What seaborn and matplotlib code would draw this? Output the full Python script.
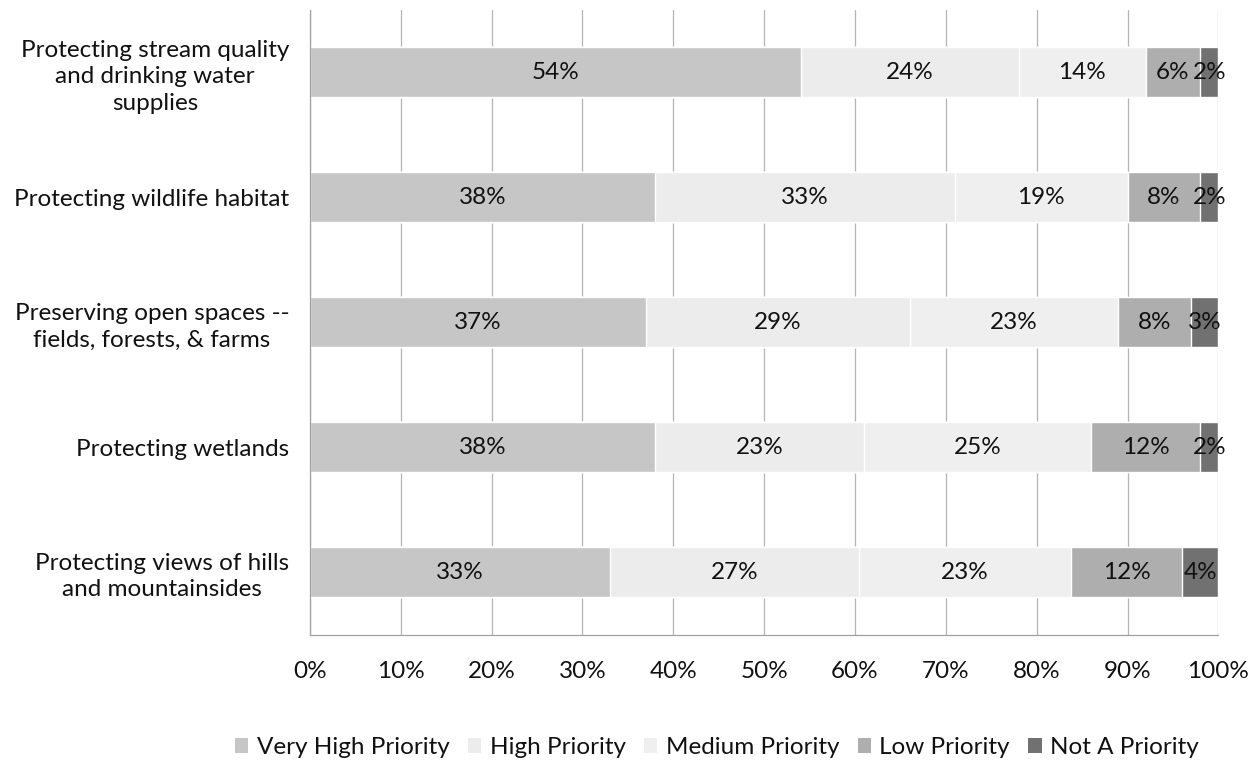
import numpy as np
import pandas as pd
import matplotlib
matplotlib.use("Agg")
import matplotlib.pyplot as plt
from matplotlib.patches import Patch
from matplotlib.ticker import FixedLocator
import seaborn as sns

categories = [
    "Protecting stream quality\nand drinking water\nsupplies",
    "Protecting wildlife habitat",
    "Preserving open spaces --\nfields, forests, & farms",
    "Protecting wetlands",
    "Protecting views of hills\nand mountainsides",
]
series = ["Very High Priority", "High Priority", "Medium Priority",
          "Low Priority", "Not A Priority"]
very_high = [54, 38, 37, 38, 33]
high = [24, 33, 29, 23, 27.4]
medium = [14, 19, 23, 25, 23.4]
low = [6, 8, 8, 12, 12.2]
not_priority = [2, 2, 3, 2, 4]
x_ticks = [0, 10, 20, 30, 40, 50, 60, 70, 80, 90, 100]

colors = ["#c6c6c6", "#ececec", "#efefef", "#aeaeae", "#717171"]
text_color = "#111111"
fs = 17.5

sns.set_style("white")
plt.rcParams["font.family"] = ["Lato", "DejaVu Sans"]

values = np.array([very_high, high, medium, low, not_priority], dtype=float)
cum = np.cumsum(values, axis=0)

fig = plt.figure(figsize=(12.6, 7.63), dpi=100)
ax = fig.add_axes([0.246, 0.168, 0.721, 0.819])

# Stacked bars: draw cumulative totals from the outermost segment inward
for i in range(len(series) - 1, -1, -1):
    df = pd.DataFrame({"category": categories, "value": cum[i]})
    sns.barplot(data=df, x="value", y="category", orient="h", color=colors[i],
                saturation=1, width=0.4, ax=ax, zorder=2)

# Segment value labels
for i in range(len(series)):
    for j in range(len(categories)):
        v = values[i, j]
        ax.text(cum[i, j] - v / 2, j, f"{v:.0f}%", ha="center", va="center",
                fontsize=fs, color=text_color, zorder=3)

ax.set_xlim(0, 100)
ax.set_ylim(len(categories) - 0.5, -0.5)
ax.set_xticks(x_ticks)
ax.set_xticklabels([f"{t}%" for t in x_ticks])
ax.set_xlabel("")
ax.set_ylabel("")

ax.grid(axis="x", color="#b4b4b4", linewidth=0.9, zorder=0)
ax.set_axisbelow(True)

for side in ["top", "right"]:
    ax.spines[side].set_visible(False)
for side in ["left", "bottom"]:
    ax.spines[side].set_color("#a0a0a0")
    ax.spines[side].set_linewidth(0.9)

ax.tick_params(axis="x", length=5, width=0.9, color="#a0a0a0", pad=14,
               labelsize=fs, labelcolor=text_color)
ax.tick_params(axis="y", which="major", length=0, pad=15,
               labelsize=fs, labelcolor=text_color)
ax.yaxis.set_minor_locator(FixedLocator(np.arange(-0.5, len(categories), 1.0)))
ax.tick_params(axis="y", which="minor", length=6, width=0.9, color="#a0a0a0")
for lbl in ax.get_yticklabels():
    lbl.set_multialignment("center")
    lbl.set_linespacing(1.3)

handles = [Patch(facecolor=c, edgecolor="none", label=s) for c, s in zip(colors, series)]
fig.legend(handles=handles, loc="center", bbox_to_anchor=(0.569, 0.02), ncol=5,
           frameon=False, fontsize=fs, handlelength=0.55, handleheight=0.55,
           handletextpad=0.35, columnspacing=0.75, labelcolor=text_color)

fig.savefig("out.png", dpi=100)
